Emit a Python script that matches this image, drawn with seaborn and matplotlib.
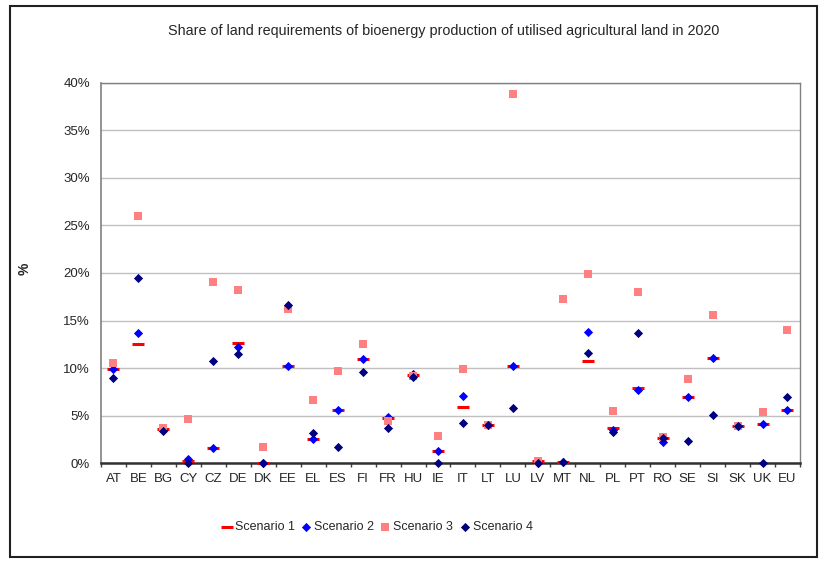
import numpy as np
import pandas as pd
import matplotlib
matplotlib.use("Agg")
import matplotlib.pyplot as plt
import seaborn as sns
from matplotlib.ticker import FixedLocator, FuncFormatter
from matplotlib.patches import Rectangle

countries = ["AT", "BE", "BG", "CY", "CZ", "DE", "DK", "EE", "EL", "ES",
             "FI", "FR", "HU", "IE", "IT", "LT", "LU", "LV", "MT", "NL",
             "PL", "PT", "RO", "SE", "SI", "SK", "UK", "EU"]

# share of utilised agricultural land, in %
scenario1 = [9.9, 12.5, 3.6, 0.25, 1.6, 12.6, 0.0, 10.2, 2.5, 5.6,
             11.0, 4.75, 9.3, 1.25, 5.9, 4.0, 10.25, 0.2, 0.07, 10.7,
             3.7, 7.85, 2.6, 7.0, 11.05, 3.9, 4.1, 5.6]
scenario2 = [9.9, 13.7, 3.5, 0.45, 1.6, 12.2, 0.0, 10.2, 2.5, 5.55,
             11.0, 4.8, 9.4, 1.25, 7.1, 4.0, 10.25, 0.0, 0.07, 13.8,
             3.5, 7.7, 2.2, 7.0, 11.05, 3.9, 4.1, 5.6]
scenario3 = [10.5, 26.0, 3.65, 4.6, 19.0, 18.2, 1.7, 16.25, 6.6, 9.7,
             12.5, 4.4, 9.2, 2.8, 9.9, 4.0, 38.8, 0.25, 17.3, 19.9,
             5.5, 18.0, 2.75, 8.8, 15.6, 3.9, 5.4, 14.0]
scenario4 = [8.9, 19.5, 3.4, 0.05, 10.7, 11.5, 0.0, 16.6, 3.15, 1.65,
             9.55, 3.7, 9.1, 0.0, 4.2, 4.0, 5.8, 0.0, 0.07, 11.6,
             3.26, 13.7, 2.6, 2.35, 5.1, 3.9, 0.0, 6.9]

scenarios = ["Scenario 1", "Scenario 2", "Scenario 3", "Scenario 4"]

df = pd.DataFrame({
    "Country": countries * 4,
    "Share": scenario1 + scenario2 + scenario3 + scenario4,
    "Scenario": np.repeat(scenarios, len(countries)),
})

styles = {
    "Scenario 1": dict(marker="_", color="#FF0000", s=64, linewidth=2.2),
    "Scenario 2": dict(marker="D", color="#0000FF", s=22, linewidth=0),
    "Scenario 3": dict(marker="s", color="#FF8080", s=26, linewidth=0),
    "Scenario 4": dict(marker="D", color="#000080", s=22, linewidth=0),
}

sns.set_style("white")
plt.rcParams["font.family"] = ["Liberation Sans", "DejaVu Sans"]

fig = plt.figure(figsize=(8.27, 5.63), dpi=100)
ax = fig.add_axes([0.1221, 0.1776, 0.8452, 0.675])

for name in scenarios:
    sub = df[df["Scenario"] == name]
    st = styles[name]
    sns.scatterplot(data=sub, x="Country", y="Share", ax=ax, label=name,
                    marker=st["marker"], color=st["color"], s=st["s"],
                    linewidth=st["linewidth"], edgecolor=st["color"],
                    clip_on=False, zorder=3)

ax.set_xlim(-0.5, len(countries) - 0.5)
ax.set_ylim(0, 40)
ax.yaxis.set_major_locator(FixedLocator(np.arange(0, 41, 5)))
ax.yaxis.set_major_formatter(FuncFormatter(lambda v, p: f"{v:.0f}%"))
ax.grid(axis="y", color="#C0C0C0", linewidth=1)
ax.grid(axis="x", visible=False)
ax.set_axisbelow(True)

ax.xaxis.set_minor_locator(FixedLocator(np.arange(-0.5, len(countries), 1)))
ax.tick_params(axis="x", which="major", length=0, pad=7, labelsize=9.5)
ax.tick_params(axis="x", which="minor", length=3, width=1, color="#404040",
               direction="out", bottom=True)
ax.tick_params(axis="y", length=0, pad=8, labelsize=9.5)

ax.set_xlabel("")
ax.set_ylabel("%", fontweight="bold", fontsize=10)
ax.yaxis.set_label_coords(-0.099, 0.51)

for side in ["top", "right"]:
    ax.spines[side].set_color("#808080")
    ax.spines[side].set_linewidth(1)
ax.spines["left"].set_color("#808080")
ax.spines["left"].set_linewidth(1.2)
ax.spines["bottom"].set_color("#303030")
ax.spines["bottom"].set_linewidth(1.8)

fig.text(0.536, 0.945, "Share of land requirements of bioenergy production of utilised agricultural land in 2020",
         ha="center", va="center", fontsize=10.4)

ax.legend(loc="center", bbox_to_anchor=(0.456, 0.064), bbox_transform=fig.transFigure,
          ncol=4, frameon=False, fontsize=9, handletextpad=0.25,
          columnspacing=0.5, handlelength=0.8, markerscale=1.0)

fig.add_artist(Rectangle((0.0121, 0.0107), 0.9758, 0.9787, transform=fig.transFigure,
                         fill=False, edgecolor="#202020", linewidth=1.5))

fig.savefig("out.png", dpi=100)
